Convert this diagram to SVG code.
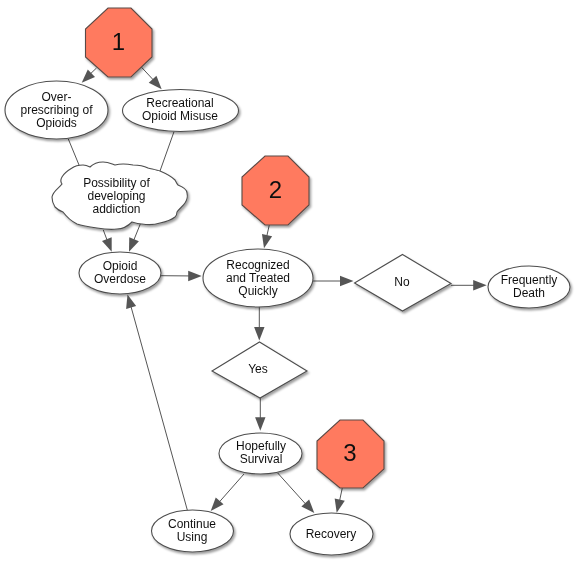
<svg xmlns="http://www.w3.org/2000/svg" width="579" height="564" viewBox="0 0 579 564">
<style>
.s{fill:#fff;stroke:#4d4d4d;stroke-width:1.1}
.o{fill:#ff7a5e;stroke:#5a4a46;stroke-width:1.1}
.g{filter:url(#sh)}
text{font-family:"Liberation Sans",Arial,sans-serif;font-size:12px;fill:#111;text-anchor:middle}
.n{font-size:24px}
.c line{stroke:#555;stroke-width:1}
</style>
<defs>
<filter id="sh" x="-15%" y="-15%" width="130%" height="130%">
<feDropShadow dx="1.5" dy="2" stdDeviation="1.3" flood-color="#000" flood-opacity="0.38"/>
</filter>
<path id="a" fill="#555" d="M0 0L-13.500-5.200V5.200Z"/>
</defs>
<rect width="579" height="564" fill="#fff"/>
<g id="connectors" class="c">
<line x1="96.500" y1="68" x2="85" y2="79"/><use href="#a" transform="translate(81.700 82.700) rotate(136)"/>
<line x1="141" y1="66.700" x2="159" y2="86"/><use href="#a" transform="translate(161.700 89.300) rotate(47.500)"/>
<line x1="68.300" y1="139" x2="79.300" y2="165.700"/>
<line x1="174" y1="131.700" x2="160" y2="171"/>
<line x1="103.300" y1="230" x2="110" y2="248"/><use href="#a" transform="translate(111.700 251.700) rotate(69)"/>
<line x1="140.300" y1="224" x2="131" y2="247"/><use href="#a" transform="translate(129 251.700) rotate(112)"/>
<line x1="161" y1="275.700" x2="198" y2="276"/><use href="#a" transform="translate(201.700 276)"/>
<line x1="269.300" y1="225" x2="265" y2="244"/><use href="#a" transform="translate(264 248.300) rotate(103)"/>
<line x1="313" y1="281" x2="350" y2="281"/><use href="#a" transform="translate(353.500 281)"/>
<line x1="451" y1="285.300" x2="483" y2="285.300"/><use href="#a" transform="translate(486.700 285.300)"/>
<line x1="259.300" y1="307" x2="259.300" y2="337"/><use href="#a" transform="translate(259.300 340.500) rotate(90)"/>
<line x1="260.300" y1="398" x2="260.300" y2="427"/><use href="#a" transform="translate(260.300 430.700) rotate(90)"/>
<line x1="244" y1="474" x2="214" y2="508"/><use href="#a" transform="translate(210.700 511) rotate(131.500)"/>
<line x1="277.700" y1="473" x2="311" y2="510"/><use href="#a" transform="translate(314.300 513) rotate(48)"/>
<line x1="342.300" y1="488" x2="338" y2="508"/><use href="#a" transform="translate(336.700 512.700) rotate(103)"/>
<line x1="187.300" y1="510" x2="130" y2="303"/><use href="#a" transform="translate(127.500 294.500) rotate(-105.500)"/>
</g>
<g id="octagon1" class="g"><path class="o" d="M108 8H131L152 29V57L131 77H108L85.500 57V29Z"/><text class="n" x="118.500" y="50">1</text></g>
<g id="overprescribing" class="g"><ellipse class="s" cx="56.500" cy="110" rx="51.500" ry="29"/><text x="56.500" y="101">Over-</text><text x="56.500" y="114">prescribing of</text><text x="56.500" y="127">Opioids</text></g>
<g id="recreational" class="g"><ellipse class="s" cx="180.500" cy="110.500" rx="58" ry="21"/><text x="180" y="107">Recreational</text><text x="180" y="120">Opioid Misuse</text></g>
<g id="cloud" class="g"><path class="s" d="M52 197C53 191 59 188 62 184C59 180 62 174 72 168C76 165 80 165 83 165C86 165 88 166 90 167C94 163 99 162 103 162C108 162 112 164 115 165C122 163 128 164 133 165C139 165 144 166 148 168C152 169 157 170 160 171C167 174 172 177 175 180C176 182 177 184 178 185C183 187 187 190 187 193C188 197 187 200 185 203C183 206 179 209 177 212C177 214 176 216 175 217C170 221 165 222 160 223C154 225 148 225 142 224C138 224 135 223 132 222C128 226 122 229 117 229C110 230 103 229 97 228C90 227 83 226 77 224C71 221 66 216 63 212C60 211 57 209 55 207C53 204 52 200 52 197Z"/><text x="116.500" y="187">Possibility of</text><text x="116.500" y="200">developing</text><text x="116.500" y="213">addiction</text></g>
<g id="overdose" class="g"><ellipse class="s" cx="120" cy="273" rx="41" ry="21"/><text x="120" y="270">Opioid</text><text x="120" y="283">Overdose</text></g>
<g id="octagon2" class="g"><path class="o" d="M265 156H288L309 177V205L288 225H265L242 205V177Z"/><text class="n" x="275.500" y="198">2</text></g>
<g id="recognized" class="g"><ellipse class="s" cx="258" cy="278" rx="55" ry="29"/><text x="258" y="269">Recognized</text><text x="258" y="282">and Treated</text><text x="258" y="295">Quickly</text></g>
<g id="no" class="g"><path class="s" d="M402.500 254.500L451 283.500L402.500 311L354.500 283Z"/><text x="402" y="286">No</text></g>
<g id="death" class="g"><ellipse class="s" cx="529" cy="287" rx="41" ry="21"/><text x="529" y="284">Frequently</text><text x="529" y="297">Death</text></g>
<g id="yes" class="g"><path class="s" d="M259.500 342L307 371L260 398L212 371Z"/><text x="258" y="373">Yes</text></g>
<g id="survival" class="g"><ellipse class="s" cx="260.500" cy="453.500" rx="41.500" ry="20.500"/><text x="261" y="450">Hopefully</text><text x="261" y="463">Survival</text></g>
<g id="octagon3" class="g"><path class="o" d="M340 420H363L384 441V469L363 488H340L317 469V441Z"/><text class="n" x="350" y="461">3</text></g>
<g id="continue" class="g"><ellipse class="s" cx="192.500" cy="531" rx="41" ry="21"/><text x="192" y="528">Continue</text><text x="192" y="541">Using</text></g>
<g id="recovery" class="g"><ellipse class="s" cx="331.500" cy="534" rx="41.500" ry="21"/><text x="331" y="538">Recovery</text></g>
</svg>
